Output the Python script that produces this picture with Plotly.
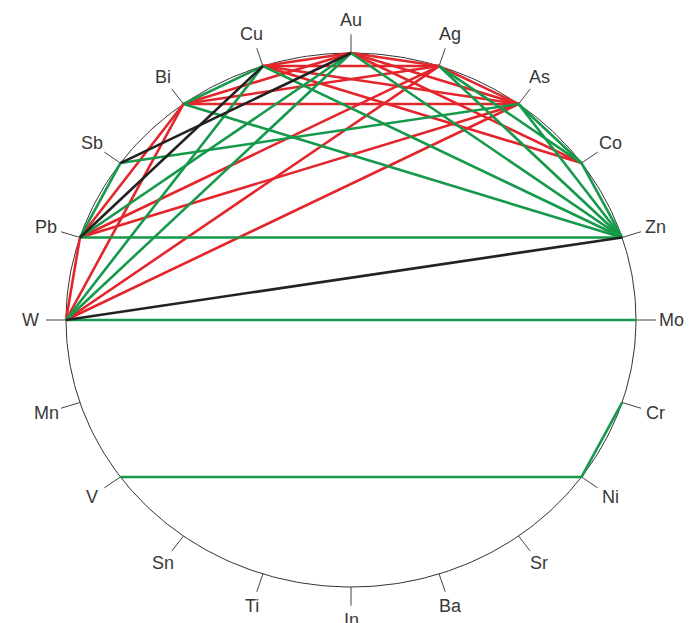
import math
import plotly.graph_objects as go

# elements around the circle, clockwise from W (left)
elements = ["W", "Pb", "Sb", "Bi", "Cu", "Au", "Ag", "As", "Co", "Zn",
            "Mo", "Cr", "Ni", "Sr", "Ba", "In", "Ti", "Sn", "V", "Mn"]

green_links = [("W", "Mo"), ("W", "Cu"), ("W", "Au"), ("Pb", "Zn"), ("Pb", "Sb"),
               ("Pb", "Au"), ("Sb", "As"), ("Bi", "Cu"), ("Bi", "Zn"), ("Cu", "Zn"),
               ("Au", "Zn"), ("Ag", "Zn"), ("As", "Zn"), ("Co", "Zn"), ("Ag", "Co"),
               ("As", "Co"), ("V", "Ni"), ("Ni", "Cr")]
red_links = [("W", "Pb"), ("W", "Bi"), ("W", "Ag"), ("W", "As"), ("Pb", "Bi"),
             ("Pb", "Ag"), ("Pb", "As"), ("Bi", "Au"), ("Bi", "Ag"), ("Bi", "As"),
             ("Cu", "Au"), ("Cu", "Ag"), ("Cu", "As"), ("Cu", "Co"), ("Au", "Ag"),
             ("Au", "As"), ("Au", "Co"), ("Ag", "As")]
black_links = [("W", "Zn"), ("Pb", "Cu"), ("Sb", "Au")]

step = 360 / len(elements)
ang = {e: math.radians(180 - step * i) for i, e in enumerate(elements)}


def pos(e, r=1.0):
    return r * math.cos(ang[e]), r * math.sin(ang[e])


def link_xy(links):
    xs, ys = [], []
    for a, b in links:
        (x0, y0), (x1, y1) = pos(a), pos(b)
        xs += [x0, x1, None]
        ys += [y0, y1, None]
    return xs, ys


fig = go.Figure()

# outline circle
t = [i * 2 * math.pi / 360 for i in range(361)]
fig.add_trace(go.Scatter(x=[math.cos(a) for a in t], y=[math.sin(a) for a in t],
                         mode="lines", line=dict(color="#333333", width=1),
                         hoverinfo="skip"))

# tick marks
tx, ty = [], []
for e in elements:
    x0, y0 = pos(e, 1.0)
    x1, y1 = pos(e, 1.07)
    tx += [x0, x1, None]
    ty += [y0, y1, None]
fig.add_trace(go.Scatter(x=tx, y=ty, mode="lines",
                         line=dict(color="#444444", width=1), hoverinfo="skip"))

for links, col in [(red_links, "#e3262b"), (green_links, "#16994a"), (black_links, "#222222")]:
    xs, ys = link_xy(links)
    fig.add_trace(go.Scatter(x=xs, y=ys, mode="lines",
                             line=dict(color=col, width=2.6), hoverinfo="skip"))

for e in elements:
    x, y = pos(e, 1.125)
    fig.add_annotation(x=x, y=y, text=e, showarrow=False,
                       font=dict(family="Liberation Sans, Arial", size=18, color="#383838"),
                       xanchor="center", yanchor="middle")

# page body adds ~8px offset, so centre the circle 8px up/left in plot coords
cx, cy, rx, ry = 343, 312, 285, 267
fig.update_layout(
    width=698, height=623,
    margin=dict(l=0, r=0, t=0, b=0),
    plot_bgcolor="white", paper_bgcolor="white",
    showlegend=False,
    xaxis=dict(range=[-cx / rx, (698 - cx) / rx], visible=False, fixedrange=True),
    yaxis=dict(range=[-(623 - cy) / ry, cy / ry], visible=False, fixedrange=True),
)

fig.write_html("out.html")
